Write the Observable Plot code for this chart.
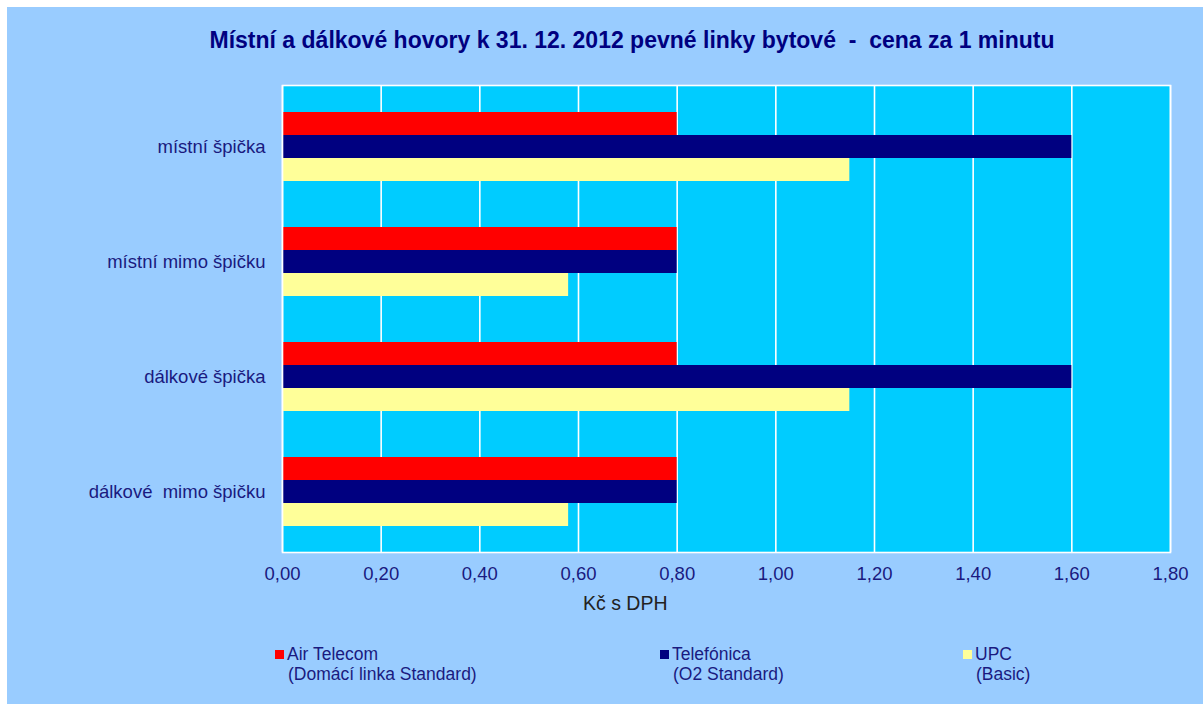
<!DOCTYPE html>
<html>
<head>
<meta charset="utf-8">
<script src="https://cdn.jsdelivr.net/npm/d3@7"></script>
<script src="https://cdn.jsdelivr.net/npm/@observablehq/plot@0.6"></script>
<style>
  html, body { margin: 0; padding: 0; background: #ffffff; }
  #wrap { position: absolute; left: 7px; top: 7px; width: 1196px; height: 697px; background: #99CCFF; overflow: hidden; font-family: "Liberation Sans", Arial, sans-serif; }
  #title { position: absolute; left: 0; width: 1250px; top: 20px; text-align: center; font-family: "Liberation Sans", Arial, sans-serif; font-weight: bold; font-size: 23px; color: #000080; white-space: pre; }
  #chart { position: absolute; left: 0; top: 63px; }
  #chart svg text { white-space: pre; }
  #xlabel { position: absolute; left: 576px; top: 585px; font-size: 19.5px; color: #222222; }
  .leg { position: absolute; font-size: 17.5px; color: #1a1a80; line-height: 20px; white-space: pre; }
  .leg .sw { display: inline-block; width: 9px; height: 9px; margin-right: 3px; vertical-align: 1px; }
  .leg .sub { display: block; padding-left: 13px; }
</style>
</head>
<body>
<div id="wrap">
  <div id="title"></div>
  <div id="chart"></div>
  <div id="xlabel"></div>
  <div id="legend"></div>
</div>
<script>
const titleText = "Místní a dálkové hovory k 31. 12. 2012 pevné linky bytové  -  cena za 1 minutu";
const axisLabel = "Kč s DPH";
const categories = ["místní špička", "místní mimo špičku", "dálkové špička", "dálkové  mimo špičku"];
const seriesNames = ["Air Telecom", "Telefónica", "UPC"];
const seriesSubtitles = ["(Domácí linka Standard)", "(O2 Standard)", "(Basic)"];
const airTelecom = [0.80, 0.80, 0.80, 0.80];
const telefonica = [1.60, 0.80, 1.60, 0.80];
const upc = [1.15, 0.58, 1.15, 0.58];
const seriesColors = ["#FF0000", "#000080", "#FFFF99"];
const xTicks = [0, 0.2, 0.4, 0.6, 0.8, 1.0, 1.2, 1.4, 1.6, 1.8];

const seriesValues = [airTelecom, telefonica, upc];
const rows = [];
categories.forEach((c, ci) => {
  seriesNames.forEach((s, si) => {
    rows.push({category: c, series: s, key: c + "|" + si, value: seriesValues[si][ci]});
  });
});
const yDomain = categories.flatMap(c => [c + "|a", c + "|0", c + "|1", c + "|2", c + "|b"]);

document.getElementById("title").textContent = titleText;
document.getElementById("xlabel").textContent = axisLabel;

const chart = Plot.plot({
  width: 1196,
  height: 560,
  marginLeft: 275,
  marginRight: 33,
  marginTop: 15,
  marginBottom: 78,
  style: {background: "transparent", fontFamily: "'Liberation Sans', Arial, sans-serif"},
  x: {domain: [0, 1.8], ticks: xTicks},
  y: {domain: yDomain, padding: 0},
  color: {domain: seriesNames, range: seriesColors},
  marks: [
    Plot.frame({fill: "#00CCFF", stroke: null}),
    Plot.gridX(xTicks, {stroke: "#ffffff", strokeOpacity: 1, strokeWidth: 1.6}),
    Plot.barX(rows, {x: "value", y: "key", fill: "series"}),
    Plot.frame({stroke: "#ffffff", strokeWidth: 1.6}),
    Plot.axisX(xTicks, {
      tickSize: 0, tickPadding: 14, fontSize: 18.5, fill: "#1a1a80", label: null,
      tickFormat: d => d.toFixed(2).replace(".", ",")
    }),
    Plot.axisY(categories.map(c => c + "|1"), {
      tickSize: 0, tickPadding: 17, fontSize: 18.5, fill: "#1a1a80", label: null,
      tickFormat: d => d.split("|")[0]
    })
  ]
});
document.getElementById("chart").appendChild(chart);

const legendLeft = [268, 653, 956];
const legend = document.getElementById("legend");
seriesNames.forEach((s, i) => {
  const d = document.createElement("div");
  d.className = "leg";
  d.style.left = legendLeft[i] + "px";
  d.style.top = "637px";
  d.innerHTML = `<span class="sw" style="background:${seriesColors[i]}"></span>${s}<span class="sub">${seriesSubtitles[i]}</span>`;
  legend.appendChild(d);
});
</script>
</body>
</html>
